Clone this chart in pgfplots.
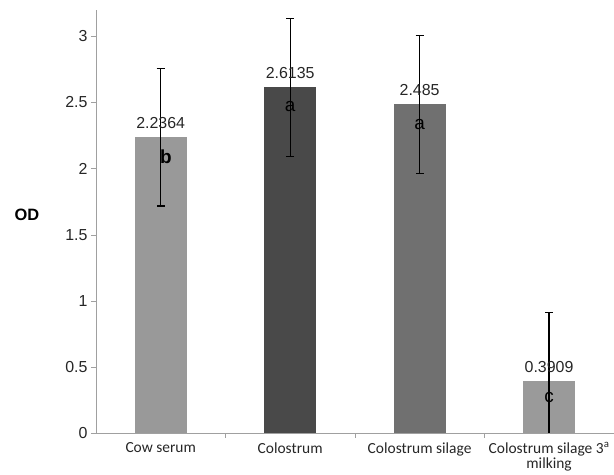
\documentclass[border=0pt]{standalone}
\usepackage{pgfplots}
\pgfplotsset{compat=1.18}
\usepackage{fontspec}
\setmainfont{Liberation Sans}
\newfontfamily\calib{Carlito}
\definecolor{cA}{HTML}{999999}
\definecolor{cB}{HTML}{494949}
\definecolor{cC}{HTML}{707070}
\definecolor{cD}{HTML}{9A9A9A}
\definecolor{axgray}{HTML}{A0A0A0}
\begin{document}
\begin{tikzpicture}
\begin{axis}[
  scale only axis,
  width=518bp, height=423bp,
  xmin=-0.5, xmax=3.5,
  ymin=0, ymax=3.2,
  axis lines=left,
  axis line style={draw=axgray, -},
  ytick={0,0.5,1,1.5,2,2.5,3},
  yticklabels={0,0.5,1,1.5,2,2.5,3},
  yticklabel style={font=\fontsize{16}{18}\selectfont, text=black!85},
  xtick={0,1,2,3},
  xticklabels={Cow serum, Colostrum, Colostrum silage, {Colostrum silage 3\textsuperscript{a}\\milking}},
  xticklabel style={font=\calib\fontsize{15.5}{15}\selectfont, align=center, text=black!85, yshift=-1bp},
  minor xtick={0.5,1.5,2.5},
  major x tick style={draw=none},
  minor tick length=5bp,
  major tick length=5bp,
  tick style={draw=axgray},
  tick align=outside,
  ylabel={\textbf{OD}},
  every axis y label/.style={at={(rel axis cs:0,0.515)}, anchor=center, xshift=-69bp, font=\fontsize{16.5}{18}\selectfont},
  ybar, bar width=52bp, bar shift=0pt,
  clip=true,
]
\addplot[fill=cA, draw=none] coordinates {(0,2.2364)};
\addplot[fill=cB, draw=none] coordinates {(1,2.6135)};
\addplot[fill=cC, draw=none] coordinates {(2,2.485)};
\addplot[fill=cD, draw=none] coordinates {(3,0.3909)};
% error bars
\addplot[draw=none, fill=none, forget plot,
  error bars/.cd, y dir=both, y explicit,
  error bar style={black, line width=1.2pt},
  error mark options={rotate=90, mark size=4bp, black, line width=1.2pt}]
  coordinates {(0,2.2364) +- (0,0.52) (1,2.6135) +- (0,0.52) (2,2.485) +- (0,0.52) (3,0.3909) +- (0,0.52)};
% value labels
\addplot[draw=none, fill=none, forget plot,
  nodes near coords, point meta=explicit symbolic,
  every node near coord/.append style={font=\fontsize{16}{18}\selectfont, text=black!85, anchor=south, yshift=5bp}]
  coordinates {(0,2.2364)[2.2364] (1,2.6135)[2.6135] (2,2.485)[2.485] (3,0.3909)[0.3909]};
% letters
\addplot[draw=none, fill=none, forget plot,
  nodes near coords, point meta=explicit symbolic,
  every node near coord/.append style={font=\fontsize{19}{21}\selectfont, text=black, anchor=center}]
  coordinates {(0.04,2.086)[\textbf{b}] (1,2.47)[a] (2,2.335)[a] (3,0.265)[c]};
\coordinate (sw) at (rel axis cs:0,0);
\coordinate (ne) at (rel axis cs:1,1);
\end{axis}
\path (sw) ++(-96bp,-42bp) coordinate (a);
\path (ne) ++(0,10bp) coordinate (b);
\path[use as bounding box] (a) rectangle (b);
\end{tikzpicture}
\end{document}
